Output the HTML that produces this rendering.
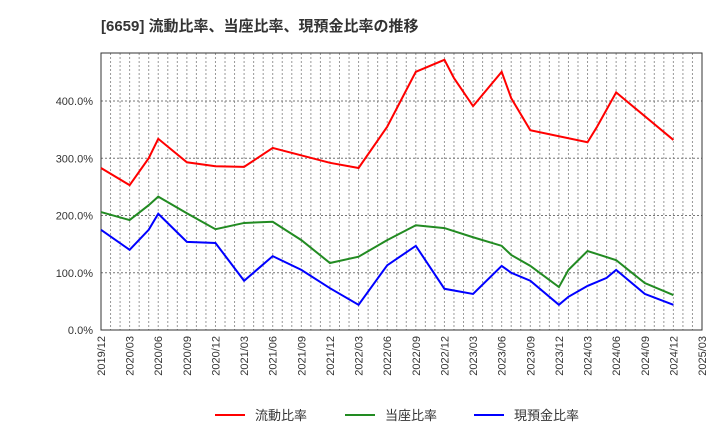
<!DOCTYPE html>
<html><head><meta charset="utf-8"><style>
body{margin:0;background:#fff;font-family:"Liberation Sans","Noto Sans CJK JP",sans-serif}
svg text{font-family:"Liberation Sans","Noto Sans CJK JP",sans-serif}
</style></head><body>
<svg id="c" width="720" height="440">
<text x="101" y="31" font-size="15" font-weight="bold" fill="#333">[6659]  流動比率、当座比率、現預金比率の推移</text>
</svg>
<script>
const xTicks=["2019/12","2020/03","2020/06","2020/09","2020/12","2021/03","2021/06","2021/09","2021/12","2022/03","2022/06","2022/09","2022/12","2023/03","2023/06","2023/09","2023/12","2024/03","2024/06","2024/09","2024/12","2025/03"];
const yTicks=[0,100,200,300,400];
const redMonths=[0,3,5,6,9,12,15,18,24,27,30,33,36,37,39,42,43,45,51,52,54,60];
const redVals=[283,253,300,334,293,286,285,318,292,283,355,451,472,440,391,451,405,349,328,355,415,332];
const greenMonths=[0,3,5,6,9,12,15,18,21,24,27,30,33,36,39,42,43,45,48,49,51,54,57,60];
const greenVals=[206,192,218,233,204,176,187,189,157,117,128,157,183,178,162,147,131,112,75,105,138,122,82,61];
const blueMonths=[0,3,5,6,9,12,15,18,21,24,27,30,33,36,39,42,43,45,48,49,51,53,54,57,60];
const blueVals=[175,140,175,203,154,152,86,129,105,73,44,113,147,72,63,112,100,86,44,58,77,91,105,63,44];
const L=101,R=702,T=53,B=330;
const mx=m=>L+m*(R-L)/63;
const vy=v=>B-v*0.5725;
const svg=document.getElementById('c');const NS="http://www.w3.org/2000/svg";
function mk(t,a,p){const e=document.createElementNS(NS,t);for(const k in a)e.setAttribute(k,a[k]);(p||svg).appendChild(e);return e;}
for(let m=0;m<=63;m++){const l=mk('line',{x1:mx(m),x2:mx(m),y1:T,y2:B,stroke:'#999','stroke-dasharray':'2,2','stroke-width':1});

}
yTicks.forEach(v=>{const l=mk('line',{x1:L,x2:R,y1:vy(v),y2:vy(v),stroke:'#777','stroke-dasharray':'2,2','stroke-width':1});


const t=mk('text',{x:93,y:vy(v)+4,'text-anchor':'end','font-size':11,fill:'#333'});t.textContent=v.toFixed(1)+'%';

});
xTicks.forEach((s,i)=>{const x=mx(i*3);const t=mk('text',{x:0,y:0,'text-anchor':'end','font-size':11,fill:'#333',transform:`translate(${x+4},${B+6}) rotate(-90)`});t.textContent=s;

});
const fr=mk('rect',{x:L,y:T,width:R-L,height:B-T,fill:'none',stroke:'#333','stroke-width':1});


function series(ms,vs,col,name){const p=mk('polyline',{points:ms.map((m,i)=>mx(m)+','+vy(vs[i])).join(' '),fill:'none',stroke:col,'stroke-width':2});

}
series(redMonths,redVals,'#ff0000','current-ratio-line');
series(greenMonths,greenVals,'#228b22','quick-ratio-line');
series(blueMonths,blueVals,'#0000ff','cash-ratio-line');
[['流動比率','#ff0000',215],['当座比率','#228b22',345],['現預金比率','#0000ff',474]].forEach(([n,c,x])=>{
const g=mk('g',{});


mk('line',{x1:x,x2:x+30,y1:415,y2:415,stroke:c,'stroke-width':2},g);
const t=mk('text',{x:x+40,y:420,'font-size':13,fill:'#333'},g);t.textContent=n;});
</script>
</body></html>
